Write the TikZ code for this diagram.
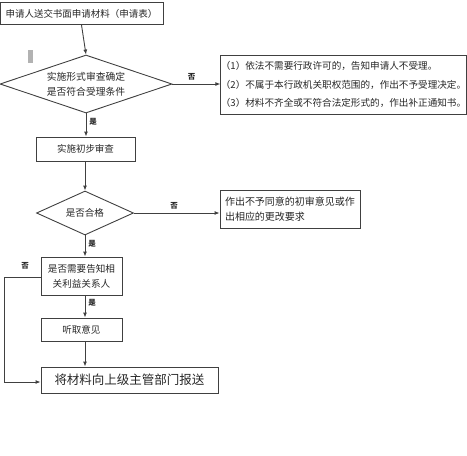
\documentclass[tikz,border=0pt]{standalone}
\usepackage{fontspec}
\setmainfont{Noto Sans CJK SC}
\usetikzlibrary{shapes.geometric,arrows.meta}
\begin{document}
\begin{tikzpicture}[x=1pt,y=-1pt,
  every node/.style={font=\fontsize{9.5}{15}\selectfont, text=black!85},
  box/.style={draw=black!75, line width=0.9pt, rectangle, inner sep=0pt},
  dia/.style={draw=black!75, line width=0.9pt, diamond, inner sep=0pt},
  conn/.style={draw=black!75, line width=0.9pt, -{Latex[length=5pt,width=4pt]}},
  lbl/.style={font=\fontsize{7.5}{8}\selectfont\bfseries, inner sep=0pt}]
\useasboundingbox (0,0) rectangle (467,456);
\fill[black!30] (28,50) rectangle (33,63);
\node[box, minimum width=163pt, minimum height=22pt] (b1) at (81.5,13.5) {申请人送交书面申请材料（申请表）};
\node[dia, minimum width=172pt, minimum height=58pt, label={[align=center, font=\fontsize{9.8}{15}\selectfont]center:实施形式审查确定\\是否符合受理条件}] (d1) at (86,84) {};
\node[box, minimum width=245pt, minimum height=59pt, align=left, font=\fontsize{9.6}{18.5}\selectfont] (r1) at (343.5,84.5) {（1）依法不需要行政许可的，告知申请人不受理。\\（2）不属于本行政机关职权范围的，作出不予受理决定。\\（3）材料不齐全或不符合法定形式的，作出补正通知书。};
\node[box, minimum width=99pt, minimum height=24pt] (b2) at (85.5,149) {实施初步审查};
\node[dia, minimum width=97pt, minimum height=44pt, label={center:是否合格}] (d2) at (85,213) {};
\node[box, minimum width=140pt, minimum height=38pt, align=left, font=\fontsize{10}{15}\selectfont] (r2) at (290,209) {作出不予同意的初审意见或作\\出相应的更改要求};
\node[box, minimum width=81pt, minimum height=38pt, align=center, font=\fontsize{9.6}{15}\selectfont] (b4) at (81.5,276) {是否需要告知相\\关利益关系人};
\node[box, minimum width=81pt, minimum height=23pt] (b5) at (81.5,329.5) {听取意见};
\node[box, minimum width=177pt, minimum height=26pt, font=\fontsize{12.5}{15}\selectfont] (b6) at (129.5,380) {将材料向上级主管部门报送};
\coordinate (lp1) at (4,277);
\coordinate (lp2) at (4,382);
\draw[conn] (b1.south) -- (d1.north);
\draw[conn] (d1.east) -- (r1.west |- d1.east) node[lbl, pos=0.4, above=3pt] {否};
\draw[conn] (d1.south) -- (d1.south |- b2.north) node[lbl, pos=0.35, right=3pt] {是};
\draw[conn] (b2.south -| d2.north) -- (d2.north);
\draw[conn] (d2.east) -- (r2.west |- d2.east) node[lbl, pos=0.47, above=3pt] {否};
\draw[conn] (d2.south) -- (d2.south |- b4.north) node[lbl, pos=0.4, right=3pt] {是};
\draw[conn] (b4.south -| d2.south) -- (b5.north -| d2.south) node[lbl, pos=0.35, right=3pt] {是};
\draw[conn] (b5.south -| d2.south) -- (b6.north -| d2.south);
\draw[conn] (b4.west |- lp1) -- (lp1) -- (lp2) -- (b6.west |- lp2);
\node[lbl] (no3) at (25,266) {否};
\end{tikzpicture}
\end{document}
